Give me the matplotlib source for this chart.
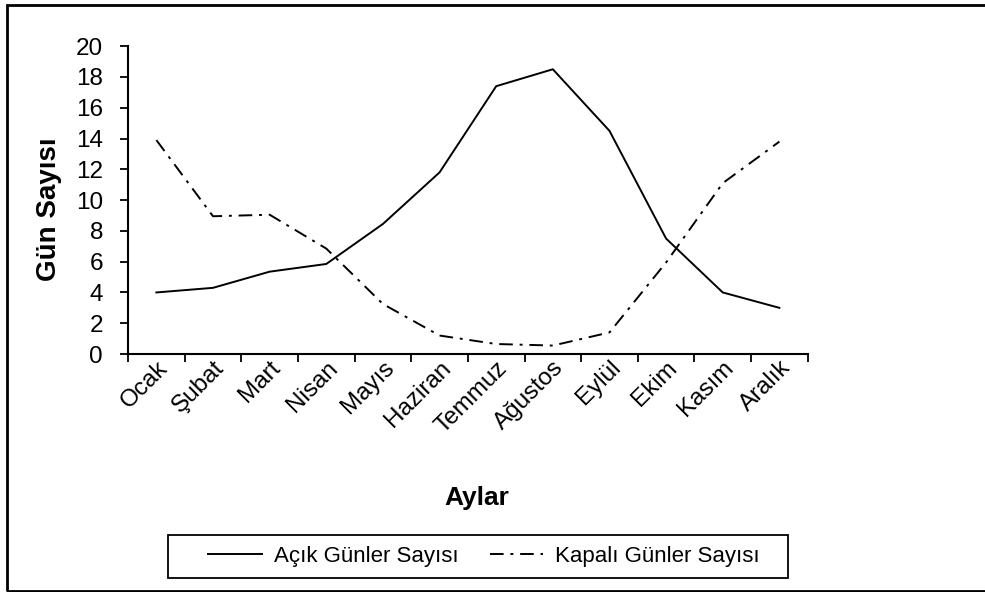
import matplotlib.pyplot as plt
from matplotlib.patches import Rectangle
import numpy as np

plt.rcParams['font.family'] = ['Liberation Sans', 'DejaVu Sans']

aylar = ["Ocak", "Şubat", "Mart", "Nisan", "Mayıs", "Haziran",
         "Temmuz", "Ağustos", "Eylül", "Ekim", "Kasım", "Aralık"]
acik = [4.0, 4.3, 5.35, 5.85, 8.45, 11.8, 17.4, 18.5, 14.5, 7.5, 4.0, 3.0]
kapali = [13.9, 8.95, 9.05, 6.85, 3.25, 1.2, 0.65, 0.55, 1.4, 5.95, 11.1, 13.8]

fig = plt.figure(figsize=(9.85, 5.92), dpi=100)
ax = fig.add_axes([0.130, 0.402, 0.690, 0.520])

x = np.arange(len(aylar))
ax.plot(x, acik, color="black", lw=1.4, label="Açık Günler Sayısı")
ax.plot(x, kapali, color="black", lw=1.4, dashes=(7, 3.5, 1.5, 3.5),
        label="Kapalı Günler Sayısı")

ax.set_xlim(-0.5, len(aylar) - 0.5)
ax.set_ylim(0, 20)
ax.set_yticks(np.arange(0, 21, 2))
ax.set_xticks(x)
ax.set_xticklabels(aylar, rotation=45, ha="right", rotation_mode="anchor")
ax.set_xticks(np.arange(-0.5, len(aylar), 1), minor=True)
ax.tick_params(axis="x", which="major", length=0, pad=2, labelsize=17.5)
ax.tick_params(axis="x", which="minor", length=6, width=1.3, direction="out")
ax.tick_params(axis="y", length=6, width=1.3, direction="out", labelsize=17.5, pad=12)

for s in ["top", "right"]:
    ax.spines[s].set_visible(False)
for s in ["left", "bottom"]:
    ax.spines[s].set_linewidth(1.5)

ax.set_ylabel("Gün Sayısı", fontsize=20, fontweight="bold")
ax.yaxis.set_label_coords(-0.097, 0.47)
ax.set_xlabel("Aylar", fontsize=19, fontweight="bold")
ax.xaxis.set_label_coords(0.513, -0.43)

# legend entries, with a separate box like the original
leg = fig.legend(loc="center", bbox_to_anchor=(484 / 985, 0.06), ncol=2,
                 fontsize=16, frameon=False, handlelength=2.4,
                 handletextpad=0.55, columnspacing=1.4, borderpad=0)
fig.patches.append(Rectangle((168 / 985, 14 / 592), 620 / 985, 43 / 592,
                             transform=fig.transFigure, fill=False,
                             edgecolor="black", lw=1.3))

# outer border of the chart area
fig.patches.append(Rectangle((6.5 / 985, 1.5 / 592), 1.2, 586 / 592,
                             transform=fig.transFigure, fill=False,
                             edgecolor="black", lw=2))

fig.savefig("out.png", dpi=100)
